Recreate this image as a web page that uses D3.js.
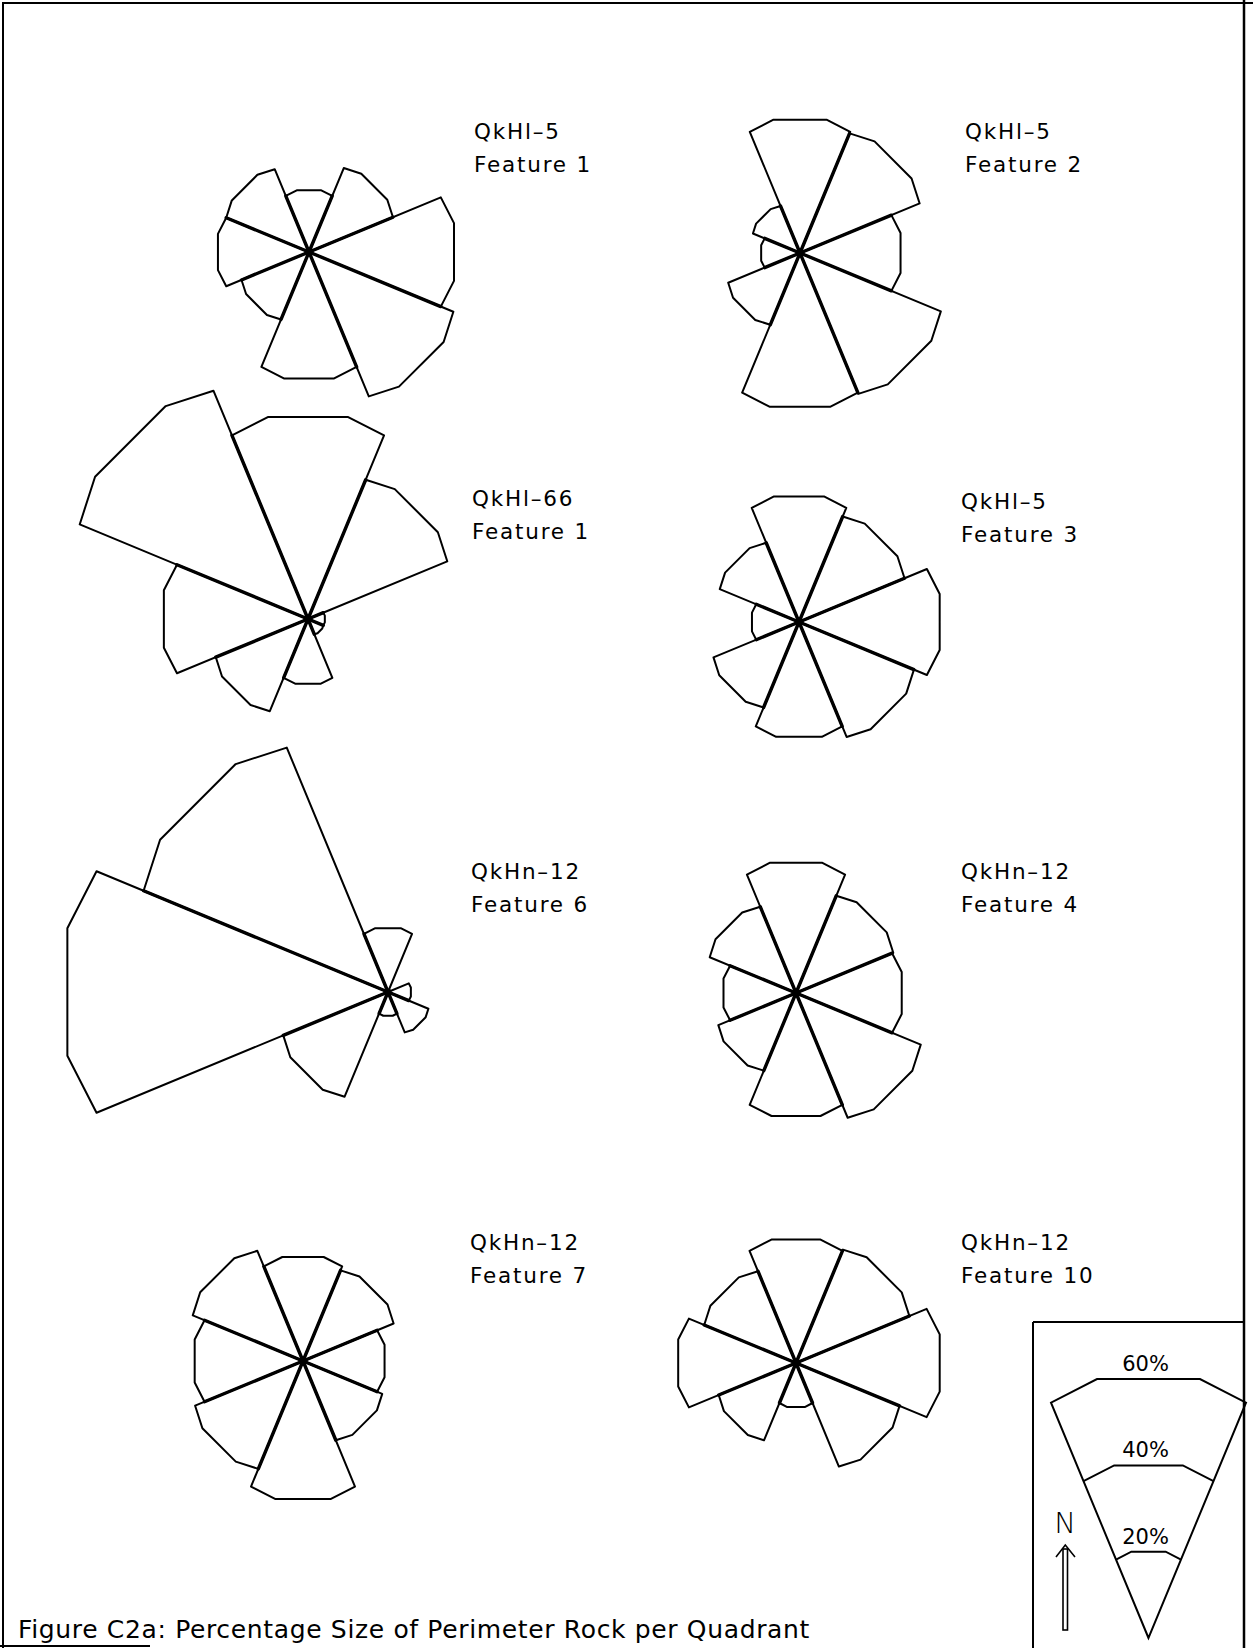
<!DOCTYPE html>
<html>
<head>
<meta charset="utf-8">
<script src="https://cdn.jsdelivr.net/npm/d3@7"></script>
<style>
  html, body { margin: 0; padding: 0; background: #fff; }
  svg { display: block; }
  text { font-family: "DejaVu Sans", "Liberation Sans", sans-serif; fill: #000; }
</style>
</head>
<body>
<svg id="chart" width="1253" height="1648"></svg>
<script>
// Eight 45° sectors, clockwise from north
const directions = ["N", "NE", "E", "SE", "S", "SW", "W", "NW"];

// Site / feature captions for each rose
const sites    = ["QkHl–5", "QkHl–5", "QkHl–66", "QkHl–5", "QkHn–12", "QkHn–12", "QkHn–12", "QkHn–12"];
const features = ["Feature 1", "Feature 2", "Feature 1", "Feature 3", "Feature 6", "Feature 4", "Feature 7", "Feature 10"];

// Percentage size of perimeter rock per sector (N, NE, E, SE, S, SW, W, NW)
const qkhl5Feature1  = [14.3, 21.4, 33.6, 36.8, 29.3, 17.2, 21.1, 21.1];
const qkhl5Feature2  = [30.9, 30.5, 23.3, 35.9, 35.6, 18.3,  9.0, 12.0];
const qkhl66Feature1 = [46.8, 35.5,  3.9,  3.9, 15.0, 23.5, 33.4, 58.2];
const qkhl5Feature3  = [29.1, 26.9, 32.6, 29.3, 26.6, 21.8, 10.9, 20.2];
const qkhn12Feature6 = [14.8,  0.0,  5.3, 10.3,  5.5, 26.7, 74.3, 62.3];
const qkhn12Feature4 = [30.2, 24.8, 24.5, 31.8, 28.5, 19.8, 16.8, 22.0];
const qkhn12Feature7 = [24.1, 23.1, 18.9, 20.2, 32.0, 27.5, 25.1, 28.1];
const qkhn12Feature10= [28.6, 28.9, 33.3, 26.4, 10.2, 19.7, 27.3, 23.4];

const roseValues = [qkhl5Feature1, qkhl5Feature2, qkhl66Feature1, qkhl5Feature3,
                    qkhn12Feature6, qkhn12Feature4, qkhn12Feature7, qkhn12Feature10];

// Scale bar in the key
const legendTicks = [20, 40, 60];
const legendTickLabels = ["20%", "40%", "60%"];

const captionText = "Figure C2a: Percentage Size of Perimeter Rock per Quadrant";

// ---- layout -------------------------------------------------------------
const W = 1253, H = 1648;
const panels = [
  { cx: 309, cy: 252, lx: 474, ly: 139 },
  { cx: 800, cy: 253, lx: 965, ly: 139 },
  { cx: 308, cy: 619, lx: 472, ly: 506 },
  { cx: 799, cy: 622, lx: 961, ly: 509 },
  { cx: 388, cy: 992, lx: 471, ly: 879 },
  { cx: 796, cy: 993, lx: 961, ly: 879 },
  { cx: 303, cy: 1361, lx: 470, ly: 1250 },
  { cx: 796, cy: 1363, lx: 961, ly: 1250 }
];

const svg = d3.select("#chart");

// radial scale: percent -> pixels
const r = d3.scaleLinear().domain([0, 60]).range([0, 264]);
const angle = d3.scalePoint().domain(directions).range([0, 2 * Math.PI * 7 / 8]);

const HALF = Math.PI / 8;     // half sector width (22.5°)
const INNER = Math.PI / 16;   // polygon vertex offset of the plotted arc
const EDGE = 0.965;           // arc end points sit slightly inside the radius

const line = d3.line();

function arcPoints(a, v) {
  const R = r(v), e = R * EDGE;
  return [
    d3.pointRadial(a - HALF, e),
    d3.pointRadial(a - INNER, R),
    d3.pointRadial(a + INNER, R),
    d3.pointRadial(a + HALF, e)
  ];
}

// ---- page frame -----------------------------------------------------------
const frame = svg.append("g").attr("stroke", "#000").attr("fill", "none");
frame.append("line").attr("x1", 2).attr("y1", 3).attr("x2", W).attr("y2", 3).attr("stroke-width", 2);
frame.append("line").attr("x1", 3).attr("y1", 3).attr("x2", 3).attr("y2", H).attr("stroke-width", 2);
frame.append("line").attr("x1", 1244).attr("y1", 0).attr("x2", 1244).attr("y2", H).attr("stroke-width", 2.5);
frame.append("line").attr("x1", 0).attr("y1", 1646).attr("x2", 150).attr("y2", 1646).attr("stroke-width", 2);

// ---- roses ----------------------------------------------------------------
panels.forEach((p, k) => {
  const vals = roseValues[k];
  const g = svg.append("g").attr("transform", `translate(${p.cx},${p.cy})`);

  // sector outlines
  g.selectAll("path.sector")
    .data(directions.map((d, i) => ({ dir: d, v: vals[i] })))
    .join("path")
    .attr("class", "sector")
    .attr("d", d => d.v > 0 ? line([[0, 0], ...arcPoints(angle(d.dir), d.v)]) + "Z" : null)
    .attr("fill", "none")
    .attr("stroke", "#000")
    .attr("stroke-width", 2)
    .attr("stroke-linejoin", "round");

  // shared edges are drawn twice by the pen and come out heavier
  g.selectAll("line.shared")
    .data(directions.map((d, i) => ({
      a: angle(d) - HALF,
      len: Math.min(vals[i], vals[(i + 7) % 8])
    })))
    .join("line")
    .attr("class", "shared")
    .each(function (d) {
      const end = d3.pointRadial(d.a, r(d.len) * EDGE);
      d3.select(this).attr("x1", 0).attr("y1", 0).attr("x2", end[0]).attr("y2", end[1]);
    })
    .attr("stroke", "#000")
    .attr("stroke-width", 3.4)
    .attr("stroke-linecap", "round");

  g.append("circle").attr("r", 3.5).attr("fill", "#000");

  // labels
  const t = svg.append("g").attr("font-size", 21.5).attr("letter-spacing", 1.8);
  t.append("text").attr("x", p.lx).attr("y", p.ly).text(sites[k]);
  t.append("text").attr("x", p.lx).attr("y", p.ly + 33).text(features[k]);
});

// ---- key ----------------------------------------------------------------------
const key = svg.append("g").attr("stroke", "#000").attr("fill", "none");
key.append("line").attr("x1", 1033).attr("y1", 1322).attr("x2", 1244).attr("y2", 1322).attr("stroke-width", 2);
key.append("line").attr("x1", 1033).attr("y1", 1322).attr("x2", 1033).attr("y2", H).attr("stroke-width", 2);

const apex = { x: 1148.5, y: 1638 };
const kg = svg.append("g").attr("transform", `translate(${apex.x},${apex.y})`);
const topTick = legendTicks[legendTicks.length - 1];
kg.append("path")
  .attr("d", line([[0, 0], ...arcPoints(0, topTick)]) + "Z")
  .attr("fill", "none").attr("stroke", "#000").attr("stroke-width", 2);
kg.selectAll("path.tick")
  .data(legendTicks.slice(0, -1))
  .join("path")
  .attr("class", "tick")
  .attr("d", d => line(arcPoints(0, d)))
  .attr("fill", "none").attr("stroke", "#000").attr("stroke-width", 2);
kg.selectAll("text.tick")
  .data(legendTicks)
  .join("text")
  .attr("class", "tick")
  .attr("x", -3)
  .attr("y", d => -r(d) * Math.cos(INNER) - 8)
  .attr("text-anchor", "middle")
  .attr("font-size", 21)
  .attr("letter-spacing", 0)
  .text((d, i) => legendTickLabels[i]);

// north arrow
svg.append("text").attr("x", 1065).attr("y", 1533).attr("text-anchor", "middle")
  .attr("font-size", 29).attr("font-weight", 200).text("N");
const arrow = svg.append("g").attr("stroke", "#000").attr("fill", "none").attr("stroke-width", 1.6);
arrow.append("rect").attr("x", 1063).attr("y", 1549).attr("width", 4.5).attr("height", 81);
arrow.append("polyline").attr("points", "1056,1557 1065.3,1545 1075,1557");

// ---- caption ------------------------------------------------------------------
svg.append("text")
  .attr("x", 18).attr("y", 1638)
  .attr("font-size", 25)
  .attr("font-family", "'DejaVu Sans Condensed', 'DejaVu Sans', sans-serif")
  .attr("letter-spacing", 0.65)
  .text(captionText);
</script>
</body>
</html>
